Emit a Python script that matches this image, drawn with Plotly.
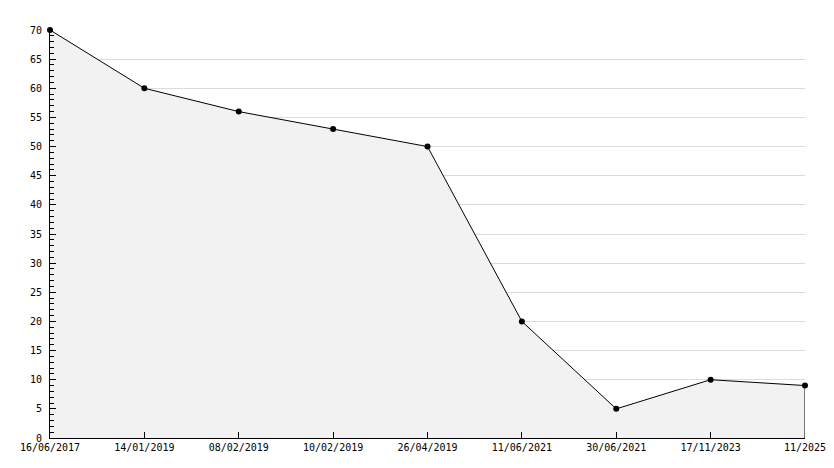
import plotly.graph_objects as go

# data
dates = ["16/06/2017", "14/01/2019", "08/02/2019", "10/02/2019", "26/04/2019",
         "11/06/2021", "30/06/2021", "17/11/2023", "11/2025"]
values = [70, 60, 56, 53, 50, 20, 5, 10, 9]
y_ticks = list(range(0, 75, 5))

fig = go.Figure()
fig.add_trace(go.Scatter(
    x=dates, y=values,
    mode="lines+markers",
    fill="tozeroy",
    fillcolor="#f2f2f2",
    line=dict(color="black", width=1),
    marker=dict(symbol="circle", size=6, color="black"),
    cliponaxis=False,
    showlegend=False,
))

# right edge of the filled area
fig.add_shape(type="line", xref="x", yref="y",
              x0=dates[-1], x1=dates[-1], y0=0, y1=values[-1],
              line=dict(color="black", width=1))

# page body adds an 8px margin, so the figure is 8px smaller
fig.update_layout(
    width=826, height=460,
    plot_bgcolor="white",
    paper_bgcolor="white",
    font=dict(family="DejaVu Sans Mono", size=10, color="black"),
    margin=dict(l=42, r=29, t=22, b=30),
)
fig.update_xaxes(
    type="category", range=[0, len(dates) - 1],
    showgrid=False, showline=True, linecolor="black", linewidth=1,
    ticks="inside", ticklen=6, tickcolor="black",
    zeroline=False, automargin=False,
)
fig.update_yaxes(
    range=[0, 70], tickvals=y_ticks,
    showgrid=True, gridcolor="#dcdcdc", gridwidth=1,
    showline=True, linecolor="black", linewidth=1,
    ticks="inside", ticklen=6, tickcolor="black",
    ticklabelstandoff=5,
    minor=dict(dtick=1, ticks="inside", ticklen=4, tickcolor="black", showgrid=False),
    zeroline=False, automargin=False,
)

fig.write_html("out.html")
